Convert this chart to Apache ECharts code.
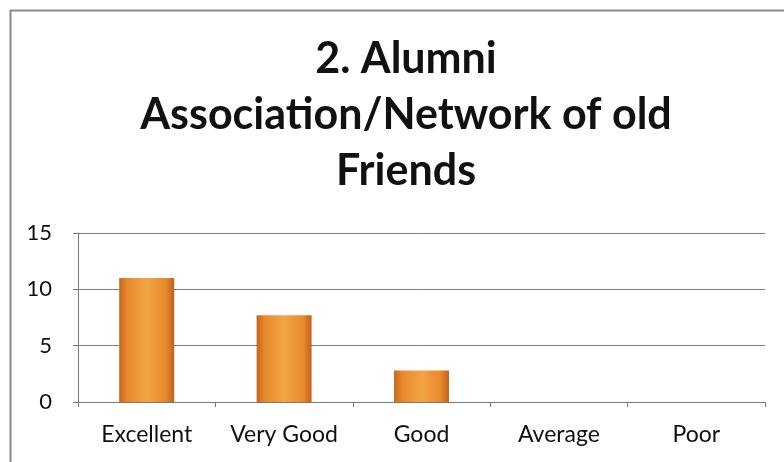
<!DOCTYPE html>
<html>
<head>
<meta charset="utf-8">
<script src="https://cdn.jsdelivr.net/npm/echarts@6/dist/echarts.min.js"></script>
<style>html,body{margin:0;padding:0;background:#fff;}#c{width:784px;height:462px;}</style>
</head>
<body>
<div id="c"></div>
<script>
const titleText = '2. Alumni\nAssociation/Network of old\nFriends';
const categories = ['Excellent', 'Very Good', 'Good', 'Average', 'Poor'];
const values = [11, 7.7, 2.8, 0, 0];
const yTicks = [0, 5, 10, 15];

const chart = echarts.init(document.getElementById('c'));
const barFill = new echarts.graphic.LinearGradient(0, 0, 1, 0, [
  {offset: 0, color: '#c9661d'},
  {offset: 0.15, color: '#e8892e'},
  {offset: 0.5, color: '#f3a544'},
  {offset: 0.85, color: '#e8892e'},
  {offset: 1, color: '#c4601a'}
]);
chart.setOption({
  backgroundColor: '#fff',
  animation: false,
  graphic: [{
    type: 'rect', left: 8, top: 8, z: -1,
    shape: {width: 800, height: 500},
    style: {fill: 'none', stroke: '#8a8a8a', lineWidth: 2}
  }],
  title: {
    text: titleText,
    left: 401,
    textAlign: 'center',
    top: 26,
    textStyle: {fontFamily: 'Lato', fontWeight: 'bold', fontSize: 43, lineHeight: 56, color: '#111'}
  },
  grid: {left: 78, right: 19, top: 233, bottom: 60, containLabel: false},
  xAxis: {
    type: 'category',
    data: categories,
    axisLine: {lineStyle: {color: '#777', width: 1}},
    axisTick: {show: true, alignWithLabel: false, interval: 0, length: 5, lineStyle: {color: '#777'}},
    axisLabel: {fontFamily: 'Lato', fontSize: 23, color: '#111', margin: 21, interval: 0, hideOverlap: false}
  },
  yAxis: {
    type: 'value',
    min: yTicks[0], max: yTicks[yTicks.length - 1], interval: 5,
    axisLine: {show: true, lineStyle: {color: '#777', width: 1}},
    axisTick: {show: true, length: 5, lineStyle: {color: '#777'}},
    splitLine: {lineStyle: {color: '#7f7f7f', width: 1}},
    axisLabel: {fontFamily: 'Lato', fontSize: 22, color: '#111', margin: 26}
  },
  series: [{
    type: 'bar',
    data: values,
    barWidth: '40%',
    itemStyle: {color: barFill, borderWidth: 0}
  }]
});
</script>
</body>
</html>
